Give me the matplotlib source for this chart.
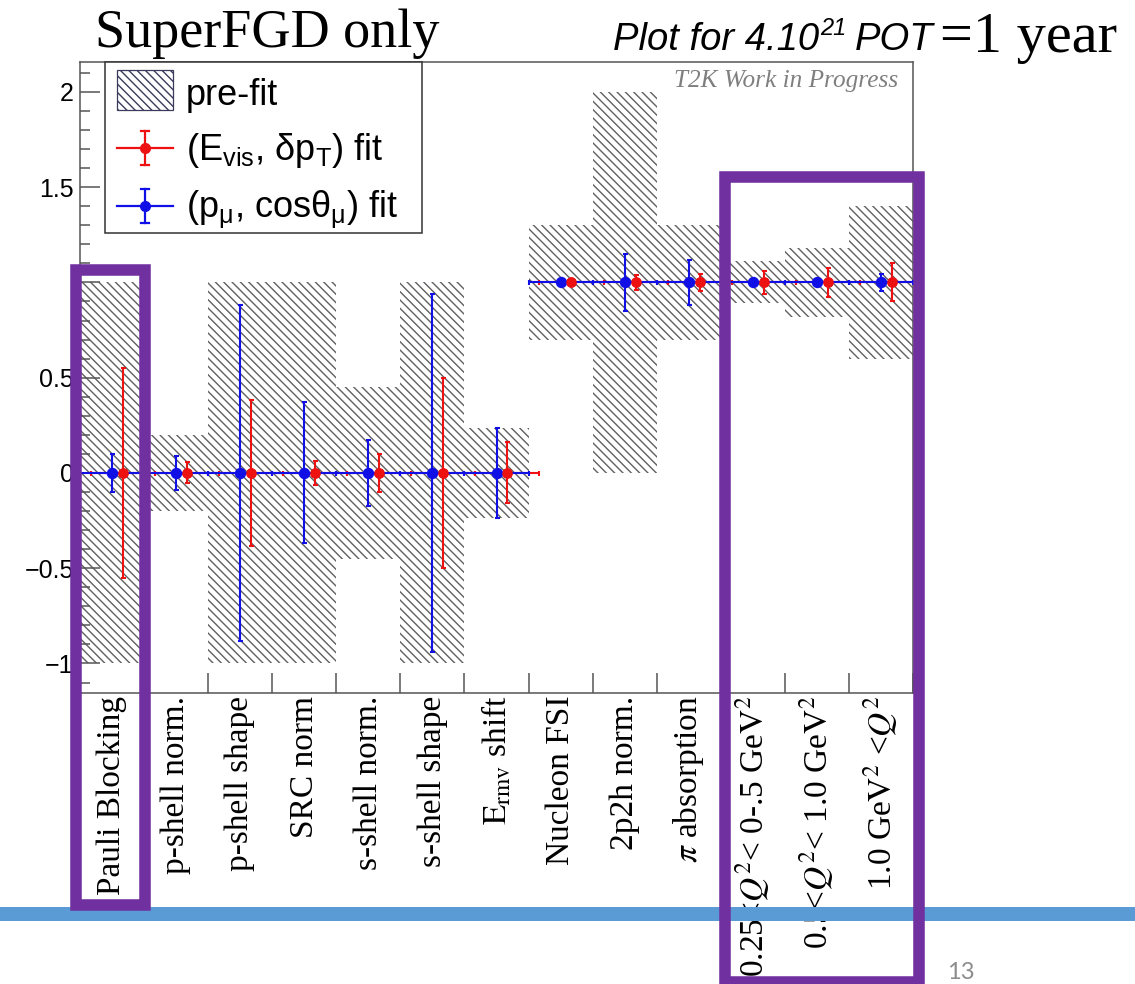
# SuperFGD only: pre-fit and post-fit nuclear model parameter errors

import numpy as np
import matplotlib
matplotlib.use("Agg")
import matplotlib.pyplot as plt
from matplotlib.patches import Rectangle
from matplotlib.lines import Line2D
from matplotlib.ticker import MultipleLocator, FuncFormatter

# Parameter names (bin labels)
param_names = ["Pauli Blocking", "p-shell norm.", "p-shell shape", "SRC norm",
               "s-shell norm.", "s-shell shape",
               r"$\mathrm{E}_{\mathrm{rmv}}$ shift",
               "Nucleon FSI", "2p2h norm.", r"$\pi$ absorption",
               r"0.25<$Q^2$< 0-.5 Ge$\mathrm{V}^2$",
               r"0.5<$Q^2$< 1.0 Ge$\mathrm{V}^2$",
               r"1.0 Ge$\mathrm{V}^2$ <$Q^2$"]

# Pre-fit central values and errors
prior_value = [0, 0, 0, 0, 0, 0, 0, 1, 1, 1, 1, 1, 1]
prior_error = [1.0, 0.2, 1.0, 1.0, 0.45, 1.0, 0.235, 0.3, 1.0, 0.3, 0.11, 0.18, 0.4]

# (E_vis, dpT) fit
evis_value = [0, 0, 0, 0, 0, 0, 0, 1, 1, 1, 1, 1, 1]
evis_error = [0.55, 0.055, 0.385, 0.065, 0.1, 0.5, 0.16, 0.02, 0.04, 0.045, 0.06, 0.076, 0.1]

# (p_mu, cos theta_mu) fit
pmu_value = [0, 0, 0, 0, 0, 0, 0, 1, 1, 1, 1, 1, 1]
pmu_error = [0.1, 0.09, 0.88, 0.37, 0.175, 0.94, 0.235, 0.015, 0.15, 0.12, 0.01, 0.01, 0.045]

W, H = 1135, 984
RED = "#ee1111"
BLUE = "#1010e6"
PURPLE = "#7030A0"
FRAME = "#555555"
HATCH = "\\\\\\\\"

plt.rcParams["font.family"] = ["Liberation Sans", "DejaVu Sans"]
plt.rcParams["mathtext.fontset"] = "custom"
plt.rcParams["mathtext.rm"] = "Liberation Sans"
plt.rcParams["mathtext.it"] = "Liberation Sans:italic"
plt.rcParams["mathtext.bf"] = "Liberation Sans:bold"
plt.rcParams["hatch.linewidth"] = 1.0


def fx(px):
    """Figure fraction from a pixel column."""
    return px / W


def fy(py):
    """Figure fraction from a pixel row (counted from the top)."""
    return 1 - py / H


def box(fig, x0, y0, x1, y1, **kw):
    """Adds a rectangle given in pixel corners to the figure."""
    r = Rectangle((fx(x0), fy(y1)), fx(x1) - fx(x0), fy(y0) - fy(y1),
                  transform=fig.transFigure, **kw)
    fig.add_artist(r)
    return r


def legend_errorbar(fig, x0, x1, y, half, color):
    """Draws an errorbar legend key centred on row y."""
    xc = (x0 + x1) / 2
    kw = dict(transform=fig.transFigure, color=color, lw=1.6, zorder=4)
    fig.add_artist(Line2D([fx(x0), fx(x1)], [fy(y), fy(y)], **kw))
    fig.add_artist(Line2D([fx(xc), fx(xc)], [fy(y - half), fy(y + half)], **kw))
    for yy in (y - half, y + half):
        fig.add_artist(Line2D([fx(xc - 4), fx(xc + 4)], [fy(yy), fy(yy)], **kw))
    fig.add_artist(Line2D([fx(xc)], [fy(y)], marker="o", ms=7, mfc=color,
                          mec=color, transform=fig.transFigure, zorder=5))


def draw_legend(fig):
    box(fig, 105, 62, 422, 233, facecolor="white", edgecolor="#333333",
        lw=1.1, zorder=2)
    box(fig, 117, 70, 173, 110, fill=False, hatch=HATCH,
        edgecolor="#3a3a5c", lw=0.9, zorder=3)
    legend_errorbar(fig, 117, 173, 148, 17, RED)
    legend_errorbar(fig, 117, 173, 206, 17, BLUE)
    tkw = dict(fontsize=26, va="baseline", ha="left", zorder=4)
    fig.text(fx(186), fy(105), "pre-fit", **tkw)
    fig.text(fx(186), fy(160),
             r"($\mathrm{E}_{\mathrm{vis}}$, δ$\mathrm{p}_{\mathrm{T}}$) fit", **tkw)
    fig.text(fx(186), fy(218),
             r"($\mathrm{p}_{\mathrm{\mu}}$, cos$\mathrm{\theta}_{\mathrm{\mu}}$) fit", **tkw)


def chain_text(fig, x_px, pieces):
    """Writes text pieces one after another, each (text, baseline row, gap, kwargs)."""
    renderer = fig.canvas.get_renderer()
    x = x_px
    for s, row, gap, kw in pieces:
        t = fig.text(fx(x + gap), fy(row), s, ha="left", va="baseline", **kw)
        bb = t.get_window_extent(renderer)
        x = bb.x1


def ytick_label(v, pos):
    if abs(v - 1) < 1e-9:
        return ""
    return ("%g" % v).replace("-", "\u2212")


fig = plt.figure(figsize=(W / 100, H / 100), dpi=100)
ax = fig.add_axes([fx(80), fy(693), fx(913) - fx(80), fy(62) - fy(693)])

n = len(param_names)
edges = np.arange(n + 1)
centers = edges[:-1] + 0.5
prior_value = np.array(prior_value, dtype=float)
prior_error = np.array(prior_error)

# Pre-fit bands
ax.bar(centers, 2 * prior_error, bottom=prior_value - prior_error, width=1.0,
       fill=False, hatch=HATCH, edgecolor="#606060", linewidth=0, zorder=1)

# Fit results
ax.errorbar(centers + 0.17, evis_value, xerr=0.5, yerr=evis_error, fmt="o",
            color=RED, ms=6.5, elinewidth=1.5, capsize=1.8, capthick=1.5,
            zorder=3)
ax.errorbar(centers, pmu_value, xerr=0.5, yerr=pmu_error, fmt="o",
            color=BLUE, ms=7.2, elinewidth=1.5, capsize=1.8, capthick=1.5,
            zorder=4)
ax.plot(centers + 0.17, evis_value, "o", color=RED, ms=6.5, zorder=5)

ax.set_xlim(0, n)
ax.set_ylim(-1.155, 2.157)

# Axis ticks
ax.set_xticks(edges)
ax.set_xticklabels([])
ax.set_xticks(centers, minor=True)
ax.set_xticklabels(param_names, minor=True, rotation=90, fontsize=24,
                   fontfamily="Liberation Serif", math_fontfamily="stix")
ax.tick_params(axis="x", which="major", direction="in", length=14.4,
               width=1.1, color=FRAME)
ax.tick_params(axis="x", which="minor", length=0, pad=2)

ax.yaxis.set_major_locator(MultipleLocator(0.5))
ax.yaxis.set_minor_locator(MultipleLocator(0.1))
ax.yaxis.set_major_formatter(FuncFormatter(ytick_label))
ax.tick_params(axis="y", which="major", direction="in", length=14.4,
               width=1.1, color=FRAME, labelsize=18, pad=4.5)
ax.tick_params(axis="y", which="minor", direction="in", length=7.2,
               width=1.1, color=FRAME)
for side in ax.spines.values():
    side.set_color(FRAME)
    side.set_linewidth(1.1)

fig.text(fx(898), fy(87), "T2K Work in Progress", ha="right", va="baseline",
         fontsize=18.2, style="italic", fontfamily="Liberation Serif",
         color="#7f7f7f")

draw_legend(fig)

# Slide titles
fig.text(fx(95), fy(47), "SuperFGD only", fontsize=39,
         fontfamily="Liberation Serif", va="baseline")
chain_text(fig, 613, [
    ("Plot for 4.10", 50, 0, dict(fontsize=27.5, style="italic")),
    ("21", 35, 1, dict(fontsize=17, style="italic")),
    ("POT", 50, 8, dict(fontsize=27.5, style="italic")),
    ("=1 year", 52, 7, dict(fontsize=42, fontfamily="Liberation Serif")),
])

# Slide decoration: blue rule, highlight boxes, page number
box(fig, 0, 907, W, 921, facecolor="#5B9BD5", edgecolor="none", zorder=6)
box(fig, 76, 269.5, 145, 905, fill=False, edgecolor=PURPLE, lw=8.3,
    joinstyle="miter", zorder=10)
box(fig, 725, 177, 918.5, 981.5, fill=False, edgecolor=PURPLE, lw=8.3,
    joinstyle="miter", zorder=10)
fig.text(fx(947), fy(979), "13", fontsize=17, fontfamily="Lato",
         color="#8c8c8c", va="baseline")

fig.savefig("out.png", dpi=100)
